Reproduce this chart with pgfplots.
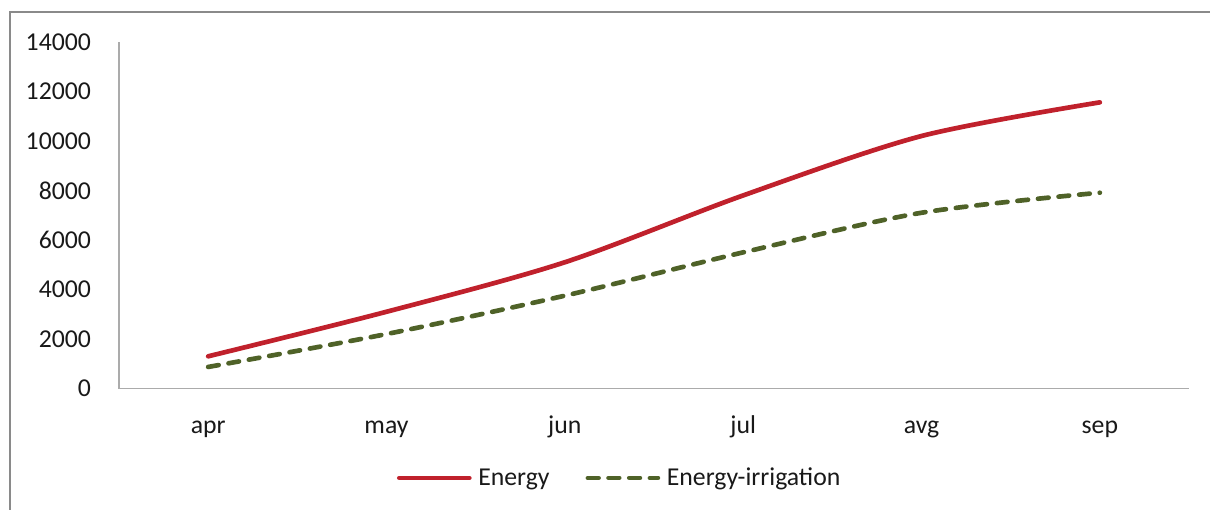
\documentclass[border=0pt]{standalone}
\usepackage{pgfplots}
\pgfplotsset{compat=1.18}
\usepackage{fontspec}
\setmainfont{Carlito}
\definecolor{enred}{HTML}{C0212C}
\definecolor{irrgreen}{HTML}{4F6228}
\definecolor{framegray}{HTML}{8A8A8A}
\definecolor{axgray}{HTML}{ABABAB}
\begin{document}
\begin{tikzpicture}[x=0.75pt,y=0.75pt]
% 1 unit = 1 px of the reference, origin at the lower left of the plot area
\useasboundingbox (-119,-121.5) rectangle (1091,388.5);
\draw[framegray, line width=1.1pt] (-109,-121.5) -- (-109,376.5) -- (1091,376.5);
\begin{axis}[
    at={(0,0)}, anchor=south west,
    scale only axis,
    width=802.5pt, height=259.9pt,
    xmin=0, xmax=6,
    ymin=0, ymax=14000,
    xtick={0.5,1.5,2.5,3.5,4.5,5.5},
    xticklabels={apr,may,jun,jul,avg,sep},
    ytick={0,2000,4000,6000,8000,10000,12000,14000},
    scaled y ticks=false,
    /pgf/number format/.cd, 1000 sep={}, assume math mode=true, /pgfplots/.cd,
    axis x line=bottom, axis y line=left,
    x axis line style={-, draw=axgray, line width=1pt},
    y axis line style={-, draw=axgray, line width=1pt},
    xtick style={draw=none}, ytick style={draw=none},
    tick label style={font=\fontsize{19.3}{22}\selectfont, text=black!90},
    xticklabel style={anchor=base, yshift=-31.4pt},
    yticklabel style={inner sep=0pt, xshift=-18.7pt},
    legend columns=2,
    legend style={at={(0.467,-0.258)}, anchor=center, draw=none, fill=none,
        font=\fontsize{19.3}{22}\selectfont, text=black!90,
        nodes={inner sep=0pt},
        /tikz/column sep=5pt,
        /tikz/every even column/.append style={column sep=27pt}},
    legend image code/.code={\draw[#1] (0pt,0pt) -- (52.5pt,0pt);},
    clip=false,
]
% Energy
\addplot[enred, line width=3.5pt, smooth, line cap=round]
    coordinates {(0.5,1300)(1.5,3100)(2.5,5100)(3.5,7800)(4.5,10200)(5.5,11560)};
% Energy-irrigation
\addplot[irrgreen, line width=3.5pt, smooth, line cap=round, dash pattern=on 8pt off 7.5pt]
    coordinates {(0.5,870)(1.5,2200)(2.5,3750)(3.5,5500)(4.5,7100)(5.5,7910)};
\legend{Energy,Energy-irrigation}
\end{axis}
\end{tikzpicture}
\end{document}
